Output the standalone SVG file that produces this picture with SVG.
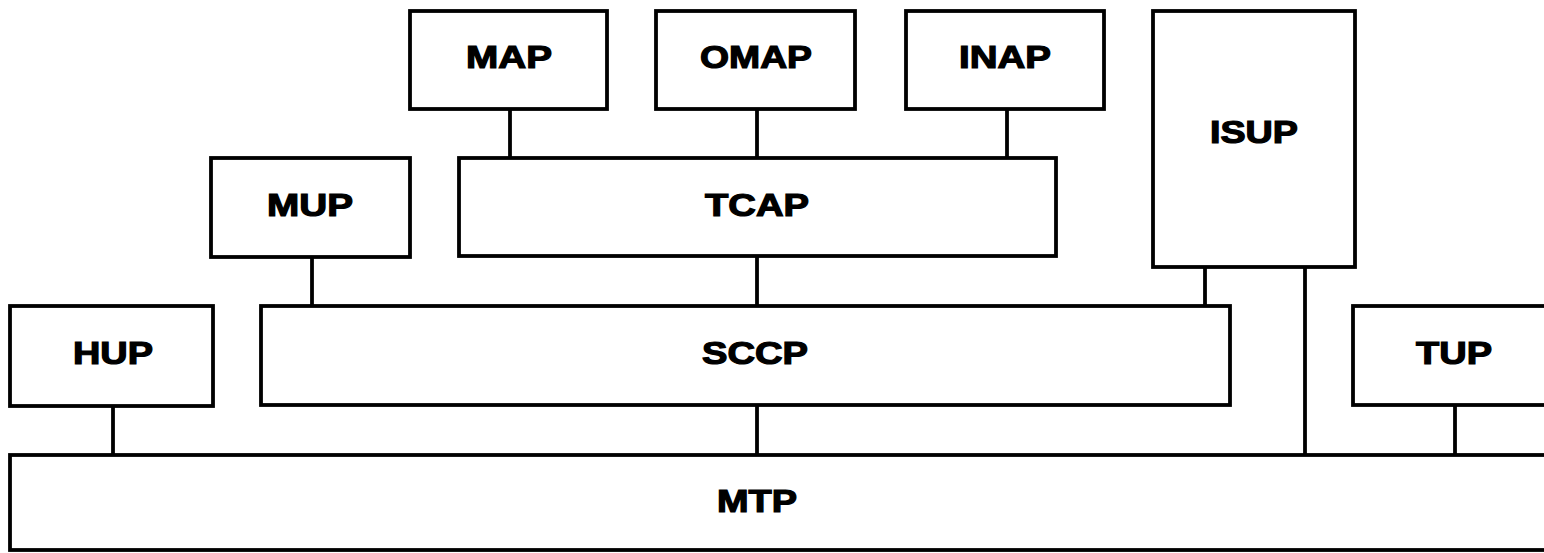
<svg xmlns="http://www.w3.org/2000/svg" width="1544" height="553" viewBox="0 0 1544 553">
<style>
.box{fill:#fff;stroke:#000;stroke-width:3.8}
.lbl{font-family:"Liberation Sans",Arial,sans-serif;font-weight:bold;font-size:31px;fill:#000;stroke:#000;stroke-width:1.2;text-anchor:middle;dominant-baseline:central}
.con line{stroke:#000;stroke-width:3.8}
</style>
<rect width="1544" height="553" fill="#fff"/>
<g class="con" id="connectors">
<line x1="510" y1="109" x2="510" y2="158"/>
<line x1="757" y1="109" x2="757" y2="158"/>
<line x1="1007" y1="109" x2="1007" y2="158"/>
<line x1="312" y1="257" x2="312" y2="306"/>
<line x1="757" y1="256" x2="757" y2="306"/>
<line x1="1205" y1="267" x2="1205" y2="306"/>
<line x1="1305" y1="267" x2="1305" y2="455"/>
<line x1="113" y1="406" x2="113" y2="455"/>
<line x1="757" y1="405" x2="757" y2="455"/>
<line x1="1455" y1="405" x2="1455" y2="455"/>
</g>
<g id="MAP"><rect class="box" x="410" y="11" width="197" height="98"/><text class="lbl" x="509" y="57" textLength="86" lengthAdjust="spacingAndGlyphs">MAP</text></g>
<g id="OMAP"><rect class="box" x="656" y="11" width="199" height="98"/><text class="lbl" x="756" y="57" textLength="112" lengthAdjust="spacingAndGlyphs">OMAP</text></g>
<g id="INAP"><rect class="box" x="906" y="11" width="198" height="98"/><text class="lbl" x="1005" y="57" textLength="92" lengthAdjust="spacingAndGlyphs">INAP</text></g>
<g id="ISUP"><rect class="box" x="1153" y="11" width="202" height="256"/><text class="lbl" x="1254" y="132" textLength="88" lengthAdjust="spacingAndGlyphs">ISUP</text></g>
<g id="MUP"><rect class="box" x="211" y="158" width="199" height="99"/><text class="lbl" x="310" y="205" textLength="86" lengthAdjust="spacingAndGlyphs">MUP</text></g>
<g id="TCAP"><rect class="box" x="459" y="158" width="597" height="98"/><text class="lbl" x="757" y="205" textLength="104" lengthAdjust="spacingAndGlyphs">TCAP</text></g>
<g id="HUP"><rect class="box" x="10" y="306" width="203" height="100"/><text class="lbl" x="113" y="353" textLength="80" lengthAdjust="spacingAndGlyphs">HUP</text></g>
<g id="SCCP"><rect class="box" x="261" y="306" width="969" height="99"/><text class="lbl" x="755" y="353" textLength="106" lengthAdjust="spacingAndGlyphs">SCCP</text></g>
<g id="TUP"><rect class="box" x="1353" y="306" width="200" height="99"/><text class="lbl" x="1454" y="353" textLength="76" lengthAdjust="spacingAndGlyphs">TUP</text></g>
<g id="MTP"><rect class="box" x="10" y="455" width="1545" height="95"/><text class="lbl" x="757" y="501" textLength="80" lengthAdjust="spacingAndGlyphs">MTP</text></g>
</svg>
